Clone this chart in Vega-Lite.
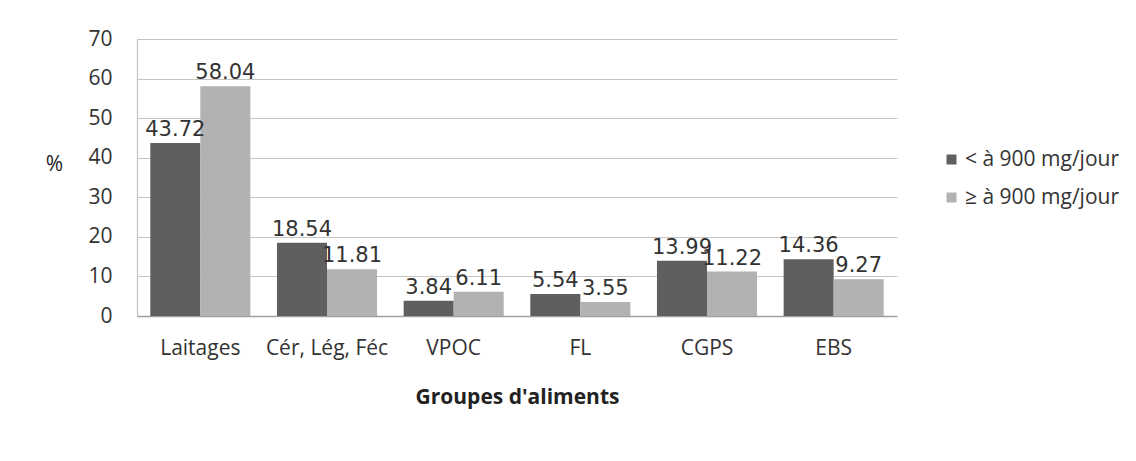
{
  "$schema": "https://vega.github.io/schema/vega-lite/v6.json",
  "autosize": "none",
  "width": 760,
  "height": 277,
  "padding": {"left": 137, "top": 39, "right": 239, "bottom": 145},
  "background": "white",
  "config": {
    "view": {"stroke": null},
    "font": "Open Sans"
  },
  "data": {
    "values": [
      {"groupe": "Laitages", "apport": "< à 900 mg/jour", "pct": 43.72},
      {"groupe": "Laitages", "apport": "≥ à 900 mg/jour", "pct": 58.04},
      {"groupe": "Cér, Lég, Féc", "apport": "< à 900 mg/jour", "pct": 18.54},
      {"groupe": "Cér, Lég, Féc", "apport": "≥ à 900 mg/jour", "pct": 11.81},
      {"groupe": "VPOC", "apport": "< à 900 mg/jour", "pct": 3.84},
      {"groupe": "VPOC", "apport": "≥ à 900 mg/jour", "pct": 6.11},
      {"groupe": "FL", "apport": "< à 900 mg/jour", "pct": 5.54},
      {"groupe": "FL", "apport": "≥ à 900 mg/jour", "pct": 3.55},
      {"groupe": "CGPS", "apport": "< à 900 mg/jour", "pct": 13.99},
      {"groupe": "CGPS", "apport": "≥ à 900 mg/jour", "pct": 11.22},
      {"groupe": "EBS", "apport": "< à 900 mg/jour", "pct": 14.36},
      {"groupe": "EBS", "apport": "≥ à 900 mg/jour", "pct": 9.27}
    ]
  },
  "encoding": {
    "x": {
      "field": "groupe",
      "type": "nominal",
      "sort": null,
      "scale": {"paddingInner": 0.21, "paddingOuter": 0.105},
      "axis": {
        "title": "Groupes d'aliments",
        "titleFont": "Open Sans",
        "titleFontSize": 21,
        "titleFontWeight": "bold",
        "titleColor": "#222222",
        "titlePadding": 28,
        "labelAngle": 0,
        "labelFont": "Open Sans",
        "labelFontSize": 21,
        "labelColor": "#333333",
        "labelPadding": 21,
        "ticks": false,
        "domainColor": "#a0a0a0",
        "domainWidth": 1.5
      }
    },
    "xOffset": {"field": "apport", "type": "nominal", "sort": null},
    "y": {
      "field": "pct",
      "type": "quantitative",
      "scale": {"domain": [0, 70]},
      "axis": {
        "title": "%",
        "titleAngle": 0,
        "titleX": -83,
        "titleY": 125,
        "titleAlign": "center",
        "titleBaseline": "middle",
        "titleFont": "Open Sans",
        "titleFontSize": 21,
        "titleFontWeight": "normal",
        "titleColor": "#222222",
        "values": [0, 10, 20, 30, 40, 50, 60, 70],
        "labelFont": "Open Sans",
        "labelFontSize": 21,
        "labelColor": "#333333",
        "labelPadding": 25,
        "ticks": false,
        "grid": true,
        "gridColor": "#c4c4c4",
        "gridWidth": 1.2,
        "domainColor": "#c4c4c4",
        "domainWidth": 1.2
      }
    }
  },
  "layer": [
    {
      "mark": {"type": "bar"},
      "encoding": {
        "color": {
          "field": "apport",
          "type": "nominal",
          "sort": null,
          "scale": {"domain": ["< à 900 mg/jour", "≥ à 900 mg/jour"], "range": ["#5f5f5f", "#b2b2b2"]},
          "legend": {
            "title": null,
            "orient": "none",
            "legendX": 804,
            "legendY": 110,
            "symbolType": "square",
            "symbolSize": 100,
            "symbolStrokeWidth": 0,
            "labelFont": "Open Sans",
            "labelFontSize": 21,
            "labelColor": "#333333",
            "labelOffset": 3,
            "rowPadding": 16
          }
        }
      }
    },
    {
      "mark": {"type": "text", "baseline": "bottom", "dy": -3, "font": "DejaVu Sans", "fontSize": 21, "color": "#333333"},
      "encoding": {
        "text": {"field": "pct", "type": "quantitative", "format": ".2f"}
      }
    }
  ]
}
